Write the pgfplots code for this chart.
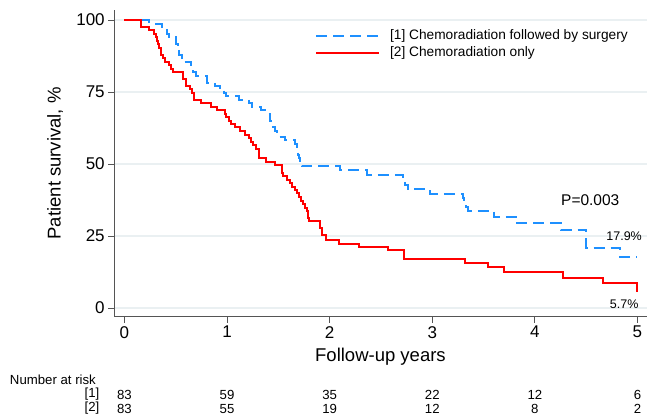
\documentclass[border=0pt]{standalone}
\usepackage{fontspec}
\setmainfont{Liberation Sans}
\usepackage{pgfplots}
\pgfplotsset{compat=1.18}

\definecolor{kmblue}{RGB}{30,144,255}
\definecolor{kmred}{RGB}{255,0,0}
\definecolor{gridc}{RGB}{234,240,242}
\definecolor{axc}{RGB}{85,85,85}

\begin{document}
\begin{tikzpicture}
\begin{axis}[
    x=102.6bp, y=2.88bp,
    xmin=-0.1, xmax=5.09, ymin=-3, ymax=103.5,
    axis x line=bottom, axis y line=left,
    axis line style={axc, line width=0.9bp, -},
    xtick={0,1,2,3,4,5}, ytick={0,25,50,75,100},
    tick align=outside, major tick length=6bp,
    tick style={axc, line width=0.9bp},
    ymajorgrids, grid style={gridc, line width=1.3bp},
    /pgf/number format/assume math mode=true,
    ticklabel style={font=\fontsize{17bp}{20bp}\selectfont},
    xlabel={Follow-up years},
    ylabel={Patient survival, \%},
    label style={font=\fontsize{18.5bp}{22bp}\selectfont},
    xlabel style={at={(axis description cs:0.5,-0.131)}, anchor=center},
    ylabel style={at={(axis description cs:-0.111,0.5)}, anchor=center},
    clip=false,
    legend style={draw=none, fill=none, at={(axis description cs:0.377,0.943)},
        anchor=north west, inner sep=0pt, row sep=0bp,
        font=\fontsize{13.7bp}{16bp}\selectfont,
        nodes={inner sep=2bp, text height=10bp, text depth=3bp},
        /tikz/every odd column/.append style={column sep=8bp}},
    legend cell align=left,
    legend image code/.code={\draw[#1] (0bp,0bp) -- (63bp,0bp);},
]
% [1] chemoradiation followed by surgery
\addplot[const plot, kmblue, line width=2bp, dash pattern=on 11bp off 6bp] coordinates {
(0,100) (0.24,98.8) (0.37,97.6) (0.41,95.2) (0.43,94.0) (0.50,91.6) (0.52,89.2)
(0.53,87.9) (0.56,85.5) (0.65,83.1) (0.67,81.9) (0.70,80.7) (0.80,78.3) (0.88,77.1)
(0.93,75.9) (0.97,74.7) (0.99,73.5) (1.12,72.3) (1.21,71.1) (1.24,69.9) (1.33,68.7)
(1.37,67.5) (1.42,65.1) (1.43,63.9) (1.45,62.7) (1.47,61.4) (1.49,59.4) (1.56,58.2)
(1.66,56.9) (1.68,54.5) (1.69,53.3) (1.70,52.1) (1.71,50.9) (1.73,49.3) (2.10,47.9)
(2.36,46.3) (2.71,44.6) (2.73,42.8) (2.76,41.2) (2.98,39.7) (3.30,38.1) (3.31,36.5)
(3.33,35.0) (3.35,33.8) (3.60,31.7) (3.83,29.4) (4.25,27.1) (4.50,20.9) (4.83,17.9)
(5.0,17.9)};
\addlegendentry{[1] Chemoradiation followed by surgery}
% [2] chemoradiation only
\addplot[const plot, kmred, line width=2bp] coordinates {
(0,100) (0.16,97.6) (0.24,96.4) (0.29,95.2) (0.31,94.0) (0.32,92.8) (0.33,91.6)
(0.34,90.4) (0.36,88.0) (0.38,86.7) (0.40,85.5) (0.43,84.3) (0.45,83.1) (0.47,81.9)
(0.57,79.5) (0.60,77.1) (0.64,75.9) (0.66,74.7) (0.68,72.3) (0.75,71.1) (0.84,69.9)
(0.90,68.7) (0.98,67.5) (0.99,66.3) (1.02,65.1) (1.04,63.9) (1.08,62.7) (1.13,61.4)
(1.17,60.2) (1.21,59.0) (1.23,57.8) (1.25,56.6) (1.28,55.4) (1.31,52.0) (1.38,50.8)
(1.47,49.6) (1.54,47.0) (1.55,45.8) (1.58,44.6) (1.61,43.4) (1.63,42.2) (1.66,41.0)
(1.68,39.8) (1.70,38.6) (1.72,37.3) (1.74,36.1) (1.76,34.9) (1.78,33.7) (1.79,31.3)
(1.80,30.1) (1.91,27.7) (1.93,25.3) (1.96,23.6) (2.09,22.2) (2.29,21.2) (2.57,20.0)
(2.72,17.2) (3.32,15.7) (3.54,14.3) (3.70,12.6) (4.27,10.5) (4.66,8.6) (5.0,5.7)};
\addlegendentry{[2] Chemoradiation only}

% annotations
\node[font=\fontsize{15.5bp}{18bp}\selectfont] at (axis cs:4.54,37.5) {P=0.003};
\node[font=\fontsize{12.5bp}{15bp}\selectfont] at (axis cs:4.87,24.8) {17.9\%};
\node[font=\fontsize{12.5bp}{15bp}\selectfont] at (axis cs:4.87,1.4) {5.7\%};

% number at risk table
\begin{scope}[font=\fontsize{13.2bp}{15bp}\selectfont]
\node[anchor=west] at (axis cs:-1.15,-25) {Number at risk};
\node[anchor=east] at (axis cs:-0.21,-30) {[1]};
\node[anchor=east] at (axis cs:-0.21,-34.9) {[2]};
\node at (axis cs:0,-30) {83}; \node at (axis cs:1,-30) {59};
\node at (axis cs:2,-30) {35}; \node at (axis cs:3,-30) {22};
\node at (axis cs:4,-30) {12}; \node at (axis cs:5,-30) {6};
\node at (axis cs:0,-34.9) {83}; \node at (axis cs:1,-34.9) {55};
\node at (axis cs:2,-34.9) {19}; \node at (axis cs:3,-34.9) {12};
\node at (axis cs:4,-34.9) {8}; \node at (axis cs:5,-34.9) {2};
\end{scope}
\end{axis}
\pgfresetboundingbox
\path[use as bounding box] (-114.2bp,-98.3bp) rectangle (532.8bp,316.7bp);
\end{tikzpicture}
\end{document}
